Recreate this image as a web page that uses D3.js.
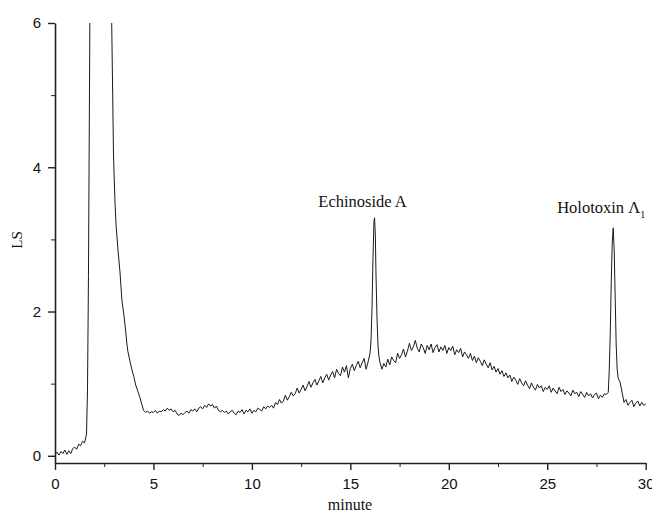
<!DOCTYPE html>
<html>
<head>
<meta charset="utf-8">
<script src="https://cdn.jsdelivr.net/npm/d3@7"></script>
<style>
    body { margin: 0; background: #fff; }
    .axis path, .axis line { stroke: #222; }
    .axis text { font-family: "Liberation Sans", Arial, sans-serif; font-size: 15px; fill: #111; }
    .title { font-family: "Liberation Serif", "Times New Roman", serif; fill: #111; }
</style>
</head>
<body>
<script>
(function(){

    //elution times (minute)
    var times = [
        0.0,0.1,0.2,0.3,0.4,0.5,0.6,0.7,0.8,0.9,1.0,1.1,1.2,1.3,1.4,1.5,1.6,
        1.65,1.7,1.75,1.8,1.9,2.0,2.2,2.4,2.6,2.7,2.8,
        2.88,2.93,2.97,3.0,3.05,3.1,3.2,3.3,3.4,3.5,3.6,3.65,3.7,3.8,3.9,
        4.0,4.1,4.2,4.3,4.4,4.5,4.6,4.7,4.8,4.9,
        5.0,5.1,5.2,5.3,5.4,5.5,5.6,5.7,5.8,5.9,
        6.0,6.1,6.2,6.3,6.4,6.5,6.6,6.7,6.8,6.9,
        7.0,7.1,7.2,7.3,7.4,7.5,7.6,7.7,7.8,7.9,
        8.0,8.1,8.2,8.3,8.4,8.5,8.6,8.7,8.8,8.9,
        9.0,9.1,9.2,9.3,9.4,9.5,9.6,9.7,9.8,9.9,
        10.0,10.1,10.2,10.3,10.4,10.5,10.6,10.7,10.8,10.9,
        11.0,11.1,11.2,11.3,11.4,11.5,11.6,11.7,11.8,11.9,
        12.0,12.1,12.2,12.3,12.4,12.5,12.6,12.7,12.8,12.9,
        13.0,13.1,13.2,13.3,13.4,13.5,13.6,13.7,13.8,13.9,
        14.0,14.1,14.2,14.3,14.4,14.5,14.6,14.7,14.8,14.9,
        15.0,15.1,15.2,15.3,15.4,15.5,15.6,15.7,15.8,15.9,
        16.0,16.05,16.1,16.15,16.2,16.23,16.27,16.3,16.35,16.4,16.45,16.5,16.6,16.7,16.8,16.9,
        17.0,17.1,17.2,17.3,17.4,17.5,17.6,17.7,17.8,17.9,
        18.0,18.1,18.2,18.3,18.4,18.5,18.6,18.7,18.8,18.9,
        19.0,19.1,19.2,19.3,19.4,19.5,19.6,19.7,19.8,19.9,
        20.0,20.1,20.2,20.3,20.4,20.5,20.6,20.7,20.8,20.9,
        21.0,21.1,21.2,21.3,21.4,21.5,21.6,21.7,21.8,21.9,
        22.0,22.1,22.2,22.3,22.4,22.5,22.6,22.7,22.8,22.9,
        23.0,23.1,23.2,23.3,23.4,23.5,23.6,23.7,23.8,23.9,
        24.0,24.1,24.2,24.3,24.4,24.5,24.6,24.7,24.8,24.9,
        25.0,25.1,25.2,25.3,25.4,25.5,25.6,25.7,25.8,25.9,
        26.0,26.1,26.2,26.3,26.4,26.5,26.6,26.7,26.8,26.9,
        27.0,27.1,27.2,27.3,27.4,27.5,27.6,27.7,27.8,27.9,
        28.0,28.1,28.15,28.2,28.25,28.3,28.35,28.4,28.45,28.5,28.55,28.6,28.7,28.8,28.9,
        29.0,29.1,29.2,29.3,29.4,29.5,29.6,29.7,29.8,29.9,30.0
    ];

    //detector signal (LS)
    var signal = [
        0.02,0.05,0.01,0.06,0.03,0.08,0.02,0.07,0.03,0.10,0.12,0.09,0.16,0.14,0.20,0.18,0.30,
        0.90,2.50,5.00,7.50,10.5,12.0,12.8,12.5,11.0,9.5,7.6,
        6.00,5.00,4.20,3.90,3.50,3.20,2.85,2.55,2.15,1.95,1.70,1.55,1.45,1.32,1.20,
        1.10,0.98,0.90,0.82,0.72,0.63,0.60,0.62,0.59,0.61,
        0.60,0.63,0.59,0.62,0.61,0.64,0.62,0.66,0.63,0.65,
        0.61,0.63,0.58,0.56,0.59,0.57,0.60,0.62,0.59,0.64,
        0.62,0.65,0.61,0.66,0.68,0.65,0.70,0.67,0.72,0.69,
        0.71,0.66,0.69,0.63,0.61,0.63,0.60,0.62,0.58,0.61,
        0.63,0.59,0.57,0.62,0.60,0.64,0.58,0.63,0.61,0.65,
        0.59,0.63,0.61,0.66,0.64,0.62,0.68,0.65,0.69,0.67,
        0.70,0.66,0.74,0.71,0.78,0.73,0.76,0.84,0.77,0.82,
        0.88,0.83,0.86,0.94,0.87,0.92,0.98,0.90,0.96,1.03,
        0.95,1.01,1.06,0.98,1.04,1.10,1.01,1.08,1.13,1.05,
        1.12,1.17,1.08,1.20,1.14,1.11,1.23,1.16,1.25,1.08,
        1.21,1.27,1.18,1.25,1.31,1.22,1.29,1.35,1.20,1.30,
        1.42,1.60,2.05,2.75,3.25,3.30,3.05,2.55,1.95,1.55,1.38,1.30,1.20,1.28,1.23,1.34,
        1.26,1.37,1.32,1.29,1.42,1.35,1.40,1.48,1.37,1.45,
        1.56,1.46,1.51,1.60,1.49,1.44,1.55,1.50,1.42,1.53,
        1.47,1.55,1.43,1.50,1.54,1.44,1.51,1.46,1.53,1.42,
        1.50,1.46,1.52,1.40,1.47,1.43,1.49,1.37,1.44,1.40,
        1.35,1.42,1.32,1.38,1.29,1.36,1.31,1.25,1.33,1.27,
        1.22,1.29,1.19,1.24,1.16,1.21,1.13,1.18,1.10,1.15,
        1.08,1.12,1.03,1.09,1.05,0.99,1.07,1.01,0.97,1.04,
        0.98,0.93,1.01,0.95,0.91,0.99,0.94,0.97,0.89,0.95,
        0.92,0.97,0.88,0.94,0.90,0.86,0.95,0.89,0.92,0.85,
        0.90,0.87,0.83,0.91,0.86,0.88,0.82,0.89,0.85,0.81,
        0.88,0.83,0.86,0.80,0.85,0.87,0.79,0.84,0.81,0.86,
        0.85,0.88,1.20,1.70,2.40,2.95,3.16,2.85,2.20,1.55,1.20,1.08,1.02,0.88,0.74,
        0.78,0.70,0.74,0.77,0.68,0.73,0.76,0.69,0.74,0.70,0.72
    ];

    var xTicks = [0, 5, 10, 15, 20, 25, 30],
        xMinor = [2.5, 7.5, 12.5, 17.5, 22.5, 27.5],
        yTicks = [0, 2, 4, 6],
        yMinor = [1, 3, 5];

    //peak labels
    var peaks = [
        {name: "Echinoside A", sub: "", t: 16.23},
        {name: "Holotoxin Λ", sub: "1", t: 28.35}
    ];

    var width = 652, height = 512;

    var svg = d3.select("body")
        .append("svg")
        .attr("width", width)
        .attr("height", height);

    var x = d3.scaleLinear().domain([0, 30]).range([55, 645.7]);
    var y = d3.scaleLinear().domain([-0.1, 6]).range([463, 23]);

    //clip so the solvent peak runs off the top
    svg.append("clipPath")
        .attr("id", "plot")
        .append("rect")
        .attr("x", 55)
        .attr("y", 23)
        .attr("width", 592)
        .attr("height", 440);

    var data = times.map(function(t, i){ return [t, signal[i]]; });

    var line = d3.line()
        .x(function(d){ return x(d[0]); })
        .y(function(d){ return y(d[1]); });

    svg.append("path")
        .datum(data)
        .attr("clip-path", "url(#plot)")
        .attr("fill", "none")
        .attr("stroke", "#1a1a1a")
        .attr("stroke-width", 1)
        .attr("d", line);

    //minor ticks
    svg.append("g")
        .attr("class", "axis")
        .attr("transform", "translate(0,463)")
        .call(d3.axisBottom(x).tickValues(xMinor).tickSize(4).tickFormat(""))
        .select(".domain").remove();

    svg.append("g")
        .attr("class", "axis")
        .attr("transform", "translate(55,0)")
        .call(d3.axisLeft(y).tickValues(yMinor).tickSize(4).tickFormat(""))
        .select(".domain").remove();

    //major axes
    var xAxis = svg.append("g")
        .attr("class", "axis")
        .attr("transform", "translate(0,463)")
        .call(d3.axisBottom(x).tickValues(xTicks).tickSize(7).tickSizeOuter(0).tickPadding(8)
            .tickFormat(d3.format("d")));
    xAxis.select(".domain").attr("stroke-width", 1.6);
    xAxis.selectAll(".tick line").attr("stroke-width", 1.4);

    var yAxis = svg.append("g")
        .attr("class", "axis")
        .attr("transform", "translate(55,0)")
        .call(d3.axisLeft(y).tickValues(yTicks).tickSize(7).tickSizeOuter(0).tickPadding(7)
            .tickFormat(d3.format("d")));
    yAxis.select(".domain").attr("stroke-width", 1.6);
    yAxis.selectAll(".tick line").attr("stroke-width", 1.4);

    //axis titles
    svg.append("text")
        .attr("class", "title")
        .attr("x", 350)
        .attr("y", 510)
        .attr("text-anchor", "middle")
        .style("font-size", "16px")
        .text("minute");

    svg.append("text")
        .attr("class", "title")
        .attr("transform", "translate(22,240) rotate(-90)")
        .attr("text-anchor", "middle")
        .style("font-size", "15px")
        .text("LS");

    //peak annotations
    var labels = svg.selectAll(".peak")
        .data(peaks)
        .enter()
        .append("text")
        .attr("class", "title peak")
        .attr("x", function(d){ return x(d.t) - 12; })
        .attr("y", function(d, i){ return i === 0 ? 207 : 213; })
        .attr("text-anchor", "middle")
        .style("font-size", "16.5px");

    labels.append("tspan").text(function(d){ return d.name; });
    labels.append("tspan")
        .attr("dy", 5)
        .style("font-size", "10px")
        .text(function(d){ return d.sub; });

})();
</script>
</body>
</html>
